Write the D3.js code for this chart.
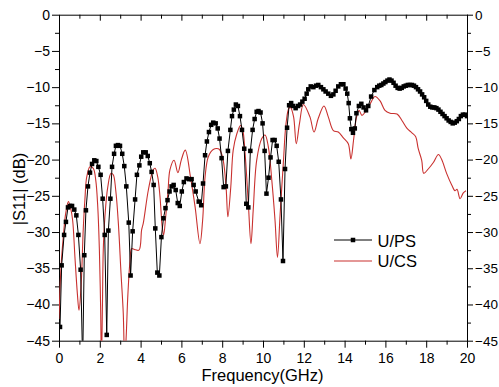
<!DOCTYPE html>
<html>
<head>
<meta charset="utf-8">
<script src="https://cdn.jsdelivr.net/npm/d3@7"></script>
<style>
  body { margin: 0; background: #fff; }
  svg { font-family: Arial, "Liberation Sans", sans-serif; }
</style>
</head>
<body>
<svg width="499" height="387"></svg>
<script>
// U/PS (black, square markers)
const upsFreq = [0.05,0.13,0.25,0.34,0.44,0.54,0.64,0.75,0.85,0.95,1.06,1.16,1.24,1.32,1.42,1.52,1.62,1.73,1.83,1.93,
  2.04,2.14,2.24,2.34,2.42,2.52,2.60,2.70,2.79,2.89,2.99,3.10,3.20,3.30,3.42,3.51,3.61,3.73,3.82,3.94,
  4.03,4.13,4.25,4.35,4.45,4.54,4.64,4.72,4.82,4.92,5.02,5.12,5.22,5.32,5.42,5.52,5.62,5.72,5.82,5.92,
  6.02,6.12,6.25,6.38,6.50,6.60,6.70,6.85,6.97,7.06,7.16,7.25,7.35,7.46,7.56,7.68,7.78,7.87,7.97,8.07,
  8.18,8.28,8.40,8.48,8.57,8.67,8.77,8.87,8.97,9.08,9.18,9.28,9.38,9.49,9.59,9.69,9.78,9.88,9.98,10.08,
  10.17,10.27,10.37,10.47,10.57,10.67,10.77,10.88,10.98,11.08,11.18,11.28,11.38,11.48,11.60,11.72,11.82,11.93,12.04,12.14,
  12.22,12.34,12.47,12.60,12.71,12.84,12.96,13.07,13.20,13.33,13.45,13.56,13.69,13.82,13.94,14.05,14.13,14.20,14.26,14.33,
  14.41,14.50,14.58,14.70,14.82,14.93,15.05,15.16,15.30,15.46,15.60,15.70,15.80,15.90,16.00,16.10,16.20,16.30,16.40,16.50,
  16.60,16.70,16.80,16.90,17.00,17.10,17.20,17.30,17.40,17.50,17.60,17.70,17.80,17.90,18.00,18.10,18.20,18.30,18.40,18.50,
  18.60,18.70,18.80,18.90,19.00,19.10,19.20,19.30,19.40,19.50,19.60,19.70,19.80,19.90,20.00];
const upsS11 = [-43.1,-34.6,-30.4,-28.6,-26.6,-26.4,-26.4,-26.9,-27.7,-30.4,-35.2,-48,-33.2,-27.0,-23.7,-21.8,-20.6,-20.1,-20.2,-21.0,
  -22.1,-25.4,-30.4,-44.2,-29.8,-25.4,-21.0,-19.2,-18.1,-18.0,-18.1,-19.2,-20.9,-23.7,-28.7,-36.0,-29.9,-25.5,-22.1,-20.8,
  -19.6,-19.0,-19.0,-19.5,-20.5,-21.7,-23.5,-29.5,-35.6,-36.0,-30.7,-28.1,-26.7,-25.6,-24.4,-23.7,-23.5,-24.2,-26.0,-26.4,
  -24.4,-23.1,-22.6,-22.7,-22.7,-23.5,-24.4,-25.8,-26.3,-23.3,-19.4,-17.5,-16.2,-15.2,-14.9,-15.0,-15.7,-17.1,-19.8,-23.8,
  -23.7,-18.8,-15.9,-14.0,-13.1,-12.4,-12.6,-14.0,-15.9,-18.5,-26.1,-26.6,-18.8,-15.9,-14.4,-13.4,-13.3,-13.5,-15.0,-18.8,
  -24.7,-22.5,-19.7,-17.3,-17.3,-18.1,-20.3,-25.5,-34.0,-21.3,-15.6,-12.5,-12.2,-12.6,-12.9,-12.6,-12.4,-12.0,-11.6,-10.9,
  -10.3,-9.9,-10.0,-9.8,-9.7,-10.0,-10.3,-10.6,-10.9,-11.2,-11.0,-10.5,-9.9,-9.6,-9.6,-10.2,-10.9,-12.2,-14.3,-15.8,
  -16.3,-15.7,-13.6,-12.6,-12.3,-12.8,-13.2,-12.6,-11.3,-10.4,-10.0,-9.8,-9.7,-9.5,-9.3,-9.1,-8.95,-9.1,-9.4,-9.8,
  -10.1,-10.2,-10.1,-9.9,-9.8,-9.7,-9.7,-9.7,-9.8,-10.0,-10.3,-10.6,-11.0,-11.4,-11.9,-12.4,-12.7,-12.8,-12.8,-12.9,
  -13.1,-13.4,-13.7,-14.0,-14.3,-14.6,-14.8,-15.0,-14.9,-14.7,-14.4,-14.0,-13.8,-13.8,-14.0];

// U/CS (red line)
const ucsFreq = [0.00,0.10,0.21,0.33,0.46,0.57,0.67,0.78,0.90,0.98,1.08,1.19,1.27,1.36,1.52,1.68,1.80,1.90,1.98,2.04,
  2.08,2.13,2.17,2.25,2.39,2.55,2.66,2.78,2.91,3.04,3.15,3.22,3.30,3.37,3.48,3.56,3.70,3.92,4.05,4.13,
  4.38,4.62,4.71,4.84,4.95,5.06,5.13,5.23,5.34,5.44,5.64,5.83,6.00,6.19,6.45,6.67,6.91,7.04,7.16,7.32,
  7.56,7.81,7.89,8.05,8.19,8.28,8.42,8.54,8.71,8.90,9.00,9.12,9.28,9.41,9.52,9.69,9.94,10.10,10.26,10.43,
  10.59,10.71,10.84,11.00,11.13,11.27,11.35,11.50,11.63,11.79,11.98,12.30,12.50,12.71,12.99,13.20,13.45,13.69,13.94,14.18,
  14.31,14.44,14.58,14.71,14.85,15.02,15.25,15.49,15.74,15.98,16.23,16.57,16.81,17.06,17.30,17.48,17.61,17.78,17.88,18.10,
  18.35,18.60,18.76,19.00,19.25,19.41,19.51,19.66,19.82,19.95];
const ucsS11 = [-42.0,-34.8,-30.7,-27.4,-25.8,-26.7,-28.4,-33.4,-38.5,-40.8,-37.6,-29.5,-25.5,-22.4,-21.0,-21.2,-22.8,-26.5,-32.5,-40.3,
  -48,-40,-32.5,-27.9,-23.8,-21.9,-22.1,-24.2,-28.8,-35.7,-41.2,-48,-44,-39,-34.0,-32.3,-32.4,-32.5,-29.7,-28.8,
  -24.2,-21.4,-21.2,-22.4,-25.1,-29.3,-30.4,-27.9,-24.5,-21.4,-20.1,-21.8,-20.0,-18.7,-22.5,-26.5,-31.6,-28.4,-22.4,-19.6,
  -18.6,-18.5,-18.7,-20.1,-23.8,-27.9,-23.8,-18.7,-16.5,-15.3,-15.8,-19.1,-26.0,-31.6,-27.0,-20.1,-17.1,-16.6,-18.2,-22.8,
  -28.4,-33.5,-27.5,-20.3,-15.0,-12.9,-12.8,-14.1,-17.8,-15.0,-12.4,-14.1,-16.2,-14.3,-12.6,-14.1,-16.0,-16.2,-17.0,-17.8,
  -19.9,-17.3,-14.2,-13.2,-13.9,-13.4,-12.3,-11.3,-11.9,-13.2,-13.6,-13.7,-14.6,-15.7,-16.3,-16.8,-18.5,-20.1,-21.9,-21.3,
  -20.4,-19.3,-20.0,-21.9,-23.5,-24.3,-24.1,-25.4,-24.6,-24.3];

const xMajor = [0, 2, 4, 6, 8, 10, 12, 14, 16, 18, 20];
const xMinor = [1, 3, 5, 7, 9, 11, 13, 15, 17, 19];
const yMajor = [0, -5, -10, -15, -20, -25, -30, -35, -40, -45];
const yMinor = [-2.5, -7.5, -12.5, -17.5, -22.5, -27.5, -32.5, -37.5, -42.5];

const svg = d3.select("svg");
const padL = 59, padR = 467, padT = 14.7, padB = 340.7;

const x = d3.scaleLinear().domain([0, 20]).range([padL, padR]);
const y = d3.scaleLinear().domain([-45, 0]).range([padB, padT]);

const red = "#c9312f";

svg.append("defs").append("clipPath").attr("id", "plot")
  .append("rect").attr("x", padL).attr("y", padT)
  .attr("width", padR - padL).attr("height", padB - padT);

// axes
function styleAxis(g, fs) {
  g.select(".domain").attr("stroke", "#000");
  g.selectAll(".tick line").attr("stroke", "#000");
  g.selectAll(".tick text").attr("font-size", fs).attr("fill", "#000");
}

svg.append("g").attr("transform", `translate(0,${padB})`)
  .call(d3.axisBottom(x).tickValues(xMajor).tickSize(7).tickSizeOuter(0).tickPadding(5))
  .call(g => styleAxis(g, "14px"));
svg.append("g").attr("transform", `translate(0,${padB})`)
  .call(d3.axisBottom(x).tickValues(xMinor).tickSize(4).tickFormat(""))
  .call(g => { g.select(".domain").remove(); styleAxis(g, "14px"); });

svg.append("g").attr("transform", `translate(0,${padT})`)
  .call(d3.axisTop(x).tickValues(xMajor).tickSize(-6).tickSizeOuter(0).tickFormat(""))
  .call(g => styleAxis(g, "14px"));
svg.append("g").attr("transform", `translate(0,${padT})`)
  .call(d3.axisTop(x).tickValues(xMinor).tickSize(-4).tickFormat(""))
  .call(g => { g.select(".domain").remove(); styleAxis(g, "14px"); });

svg.append("g").attr("transform", `translate(${padL},0)`)
  .call(d3.axisLeft(y).tickValues(yMajor).tickSize(7).tickSizeOuter(0).tickPadding(2))
  .call(g => styleAxis(g, "14px"));
svg.append("g").attr("transform", `translate(${padL},0)`)
  .call(d3.axisLeft(y).tickValues(yMinor).tickSize(4).tickFormat(""))
  .call(g => { g.select(".domain").remove(); styleAxis(g, "14px"); });

svg.append("g").attr("transform", `translate(${padR},0)`)
  .call(d3.axisRight(y).tickValues(yMajor).tickSize(6).tickSizeOuter(0).tickPadding(2))
  .call(g => styleAxis(g, "13.5px"));
svg.append("g").attr("transform", `translate(${padR},0)`)
  .call(d3.axisRight(y).tickValues(yMinor).tickSize(4).tickFormat(""))
  .call(g => { g.select(".domain").remove(); styleAxis(g, "14px"); });

// axis titles
svg.append("text")
  .attr("x", 262.5).attr("y", 381)
  .attr("text-anchor", "middle")
  .attr("font-size", "16.5px")
  .text("Frequency(GHz)");

svg.append("text")
  .attr("transform", "translate(25,189) rotate(-90)")
  .attr("text-anchor", "middle")
  .attr("font-size", "16.5px")
  .text("|S11| (dB)");

// series
const plot = svg.append("g").attr("clip-path", "url(#plot)");

const ucs = ucsFreq.map((f, i) => ({f: f, v: ucsS11[i]}));
const ups = upsFreq.map((f, i) => ({f: f, v: upsS11[i]}));

plot.append("path")
  .datum(ucs)
  .attr("fill", "none")
  .attr("stroke", red)
  .attr("stroke-width", 1.1)
  .attr("d", d3.line().x(d => x(d.f)).y(d => y(d.v)).curve(d3.curveCatmullRom.alpha(0.5)));

plot.append("path")
  .datum(ups)
  .attr("fill", "none")
  .attr("stroke", "#000")
  .attr("stroke-width", 1)
  .attr("d", d3.line().x(d => x(d.f)).y(d => y(d.v)));

const ms = 4.5;
plot.selectAll(".pt")
  .data(ups)
  .enter().append("rect")
  .attr("class", "pt")
  .attr("x", d => x(d.f) - ms / 2)
  .attr("y", d => y(d.v) - ms / 2)
  .attr("width", ms)
  .attr("height", ms)
  .attr("fill", "#000");

// legend
const lg = svg.append("g");
lg.append("line").attr("x1", 334).attr("x2", 372).attr("y1", 240).attr("y2", 240)
  .attr("stroke", "#000").attr("stroke-width", 1);
lg.append("rect").attr("x", 353 - ms / 2).attr("y", 240 - ms / 2)
  .attr("width", ms).attr("height", ms).attr("fill", "#000");
lg.append("text").attr("x", 377.5).attr("y", 246.5).attr("font-size", "16.5px").text("U/PS");

lg.append("line").attr("x1", 334).attr("x2", 372).attr("y1", 261).attr("y2", 261)
  .attr("stroke", red).attr("stroke-width", 1.1);
lg.append("text").attr("x", 377.5).attr("y", 267).attr("font-size", "16.5px").text("U/CS");
</script>
</body>
</html>
